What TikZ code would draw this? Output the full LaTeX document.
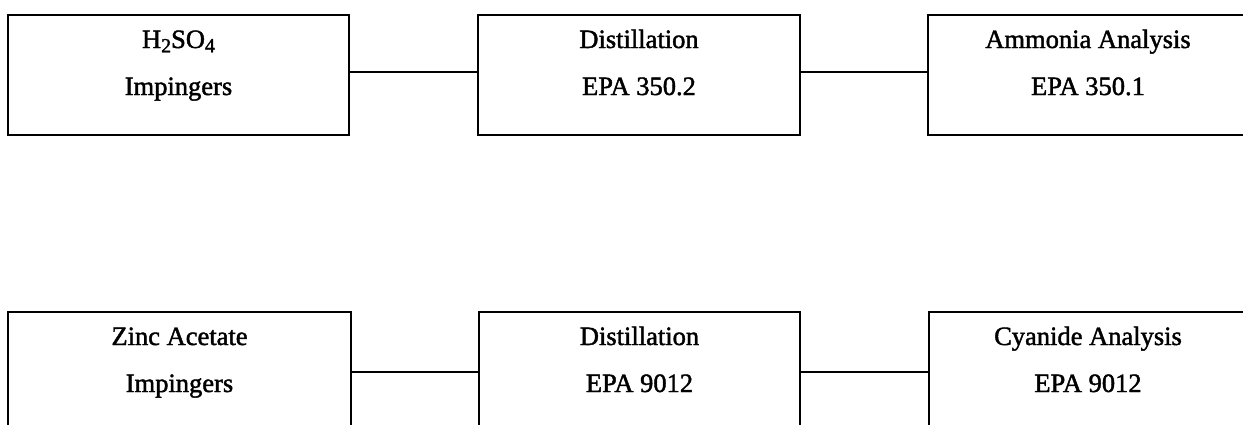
\documentclass[tikz,border=0pt]{standalone}
\usepackage{fontspec}
\setmainfont{Liberation Serif}[FakeBold=1.6]
\begin{document}
\begin{tikzpicture}[x=1pt,y=-1pt,
  stage/.style={draw, line width=2.8pt, inner sep=0pt, minimum height=120pt},
  caption/.style={anchor=base, inner sep=0pt, font=\fontsize{26.5}{32}\selectfont},
  link/.style={draw, line width=2.2pt}]
  \useasboundingbox (0,0) rectangle (1243,424);
  \clip (0,0) rectangle (1243,424);

  % upper train: sulfuric acid impingers
  \node[stage, minimum width=341pt] (acid) at (178.5,75) {};
  \node[stage, minimum width=322pt] (distA) at (639,75) {};
  \node[stage, minimum width=321pt] (ammonia) at (1088.5,75) {};
  \node[caption] (acidA) at (178.5,48) {H\raisebox{-0.35ex}{\fontsize{20}{20}\selectfont 2}SO\raisebox{-0.35ex}{\fontsize{20}{20}\selectfont 4}};
  \node[caption] (acidB) at (178.5,95) {Impingers};
  \node[caption] (distAa) at (639,48) {Distillation};
  \node[caption] (distAb) at (639,95) {EPA 350.2};
  \node[caption] (ammoniaA) at (1088,48) {Ammonia Analysis};
  \node[caption] (ammoniaB) at (1088,95) {EPA 350.1};

  % lower train: zinc acetate impingers
  \node[stage, minimum width=343pt] (zinc) at (179.5,372) {};
  \node[stage, minimum width=321pt] (distB) at (639.5,372) {};
  \node[stage, minimum width=321pt] (cyanide) at (1089.5,372) {};
  \node[caption] (zincA) at (179.5,345) {Zinc Acetate};
  \node[caption] (zincB) at (179.5,392) {Impingers};
  \node[caption] (distBa) at (639.5,345) {Distillation};
  \node[caption] (distBb) at (639.5,392) {EPA 9012};
  \node[caption] (cyanideA) at (1088,345) {Cyanide Analysis};
  \node[caption] (cyanideB) at (1088,392) {EPA 9012};

  \draw[link] ([yshift=3pt]acid.east) -- ([yshift=3pt]distA.west);
  \draw[link] ([yshift=3pt]distA.east) -- ([yshift=3pt]ammonia.west);
  \draw[link] (zinc.east) -- (distB.west);
  \draw[link] (distB.east) -- (cyanide.west);
\end{tikzpicture}
\end{document}
